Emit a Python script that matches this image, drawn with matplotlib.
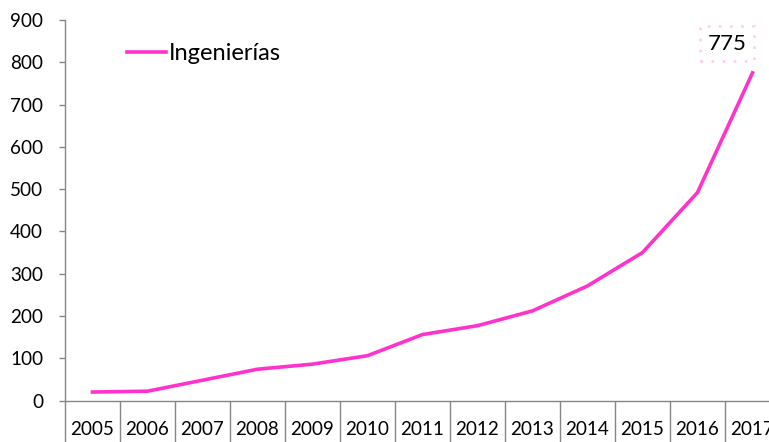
import matplotlib
matplotlib.use("Agg")
import matplotlib.pyplot as plt
from matplotlib.ticker import FixedLocator

years = ["2005", "2006", "2007", "2008", "2009", "2010", "2011", "2012",
         "2013", "2014", "2015", "2016", "2017"]
values = [20, 22, 48, 74, 86, 106, 156, 177, 212, 271, 350, 492, 775]
series_name = "Ingenierías"
y_ticks = [0, 100, 200, 300, 400, 500, 600, 700, 800, 900]

plt.rcParams['font.family'] = ['Lato', 'DejaVu Sans']
W, H = 769, 442
fig = plt.figure(figsize=(W / 100, H / 100), dpi=100)
left, right = 65, 780
bottom, top = 400.5, 20
ax = fig.add_axes([left / W, (H - bottom) / H, (right - left) / W, (bottom - top) / H])

grey = '#868686'
pink = '#FF33CC'
x = list(range(len(years)))
ax.plot(x, values, color=pink, lw=2.6, solid_joinstyle='round', label=series_name,
        clip_on=False)

ax.set_xlim(-0.5, len(years) - 0.5)
ax.set_ylim(0, 900)
ax.set_yticks(y_ticks)
ax.set_xticks(x)
ax.set_xticklabels(years)
ax.xaxis.set_minor_locator(FixedLocator([i - 0.5 for i in range(len(years) + 1)]))

for s in ['top', 'right']:
    ax.spines[s].set_visible(False)
for s in ['left', 'bottom']:
    ax.spines[s].set_color(grey)
    ax.spines[s].set_linewidth(1)

ax.tick_params(axis='y', length=4.3, width=1, color=grey, pad=11.5, labelsize=13.6,
               labelcolor='black')
ax.tick_params(axis='x', which='major', length=0, pad=14.5, labelsize=13.6,
               labelcolor='black')
ax.tick_params(axis='x', which='minor', length=35, width=1, color=grey)

leg = ax.legend(loc='upper left', bbox_to_anchor=(62 / 715, 1 - 23 / 380.5),
                frameon=False, fontsize=17, handlelength=1.65, handletextpad=0.12,
                borderaxespad=0, borderpad=0)

ax.annotate(str(values[-1]), xy=(x[-1], values[-1]), xytext=(-18.4, 21.0),
            textcoords='offset points', ha='center', va='center', fontsize=16,
            annotation_clip=False,
            bbox=dict(boxstyle='square,pad=0.35', fc='none', ec='#FFCCF2',
                      lw=1.9, ls=(0, (1, 3.2))))

fig.savefig('out.png', dpi=100)
